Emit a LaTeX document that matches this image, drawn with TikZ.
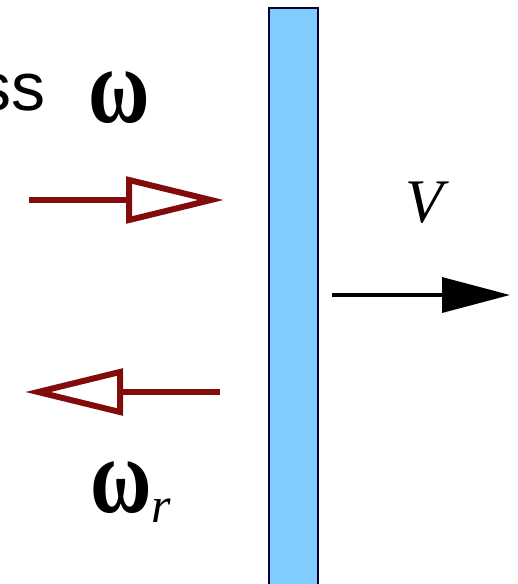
\documentclass[tikz,border=0pt]{standalone}
\usepackage{fontspec}
\usepackage{graphicx}
\setmainfont{Liberation Serif}
\newfontfamily\labelsans{Liberation Sans}
\usetikzlibrary{arrows.meta}
\definecolor{beamred}{RGB}{130,12,12}
\definecolor{mirrorblue}{RGB}{128,204,255}
\newcommand{\tallomega}{\scalebox{1.05}[1.35]{ω}}

\begin{document}
\begin{tikzpicture}[
        x=1pt, y=-1pt,
        greek/.style={inner sep=0pt, font=\fontsize{80}{80}\selectfont\bfseries},
        wave/.style={-{Triangle[open, length=98pt, width=46pt]}, line width=6pt, draw=beamred},
        motion/.style={-{Triangle[length=68pt, width=35pt]}, line width=3.5pt},
        mirror/.style={draw=black!80!blue, line width=2pt, fill=mirrorblue,
                       minimum width=49pt, minimum height=600pt, inner sep=0pt}
    ]
        \useasboundingbox (0,0) rectangle (518,584);
        \clip (0,0) rectangle (518,584);

        \node[mirror, anchor=north west] (mirror) at (268,7) {};
        \node[anchor=base east, inner sep=0pt,
              font=\labelsans\fontsize{68}{68}\selectfont] (cut) at (46,110) {ss};
        \node[greek, anchor=base] (omega) at (119,122) {\tallomega};
        \node[greek, anchor=base west] (omegar) at (90,512)
            {\tallomega\raisebox{-10pt}{\fontsize{50}{50}\selectfont\mdseries\itshape r}};
        \node[anchor=base west, inner sep=0pt,
              font=\fontsize{62}{62}\selectfont\itshape] (speed) at (405,222) {V};

        % incident and reflected waves
        \coordinate (in-start) at (29,200);
        \coordinate (in-end) at (224,200);
        \coordinate (out-start) at (220,392);
        \coordinate (out-end) at (25,392);
        \draw[wave] (in-start) -- (in-end);
        \draw[wave] (out-start) -- (out-end);

        % mirror velocity
        \coordinate (move-end) at (510,295);
        \draw[motion] (mirror.east |- move-end) ++(13,0) -- (move-end);
    \end{tikzpicture}
\end{document}
